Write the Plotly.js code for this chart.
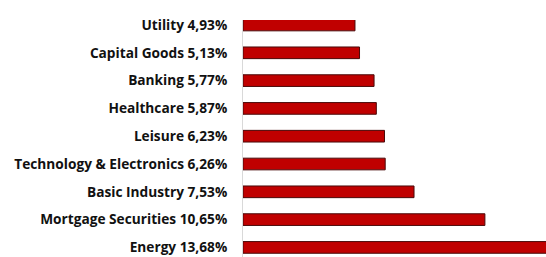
<!DOCTYPE html>
<html>
<head>
<meta charset="utf-8">
<script src="https://cdn.plot.ly/plotly-3.0.1.min.js"></script>
<style>html,body{margin:0;padding:0;background:#fff;}#chart{width:546px;height:257px;}</style>
</head>
<body>
<div id="chart"></div>
<script>
var sectors = ["Utility", "Capital Goods", "Banking", "Healthcare", "Leisure", "Technology & Electronics", "Basic Industry", "Mortgage Securities", "Energy"];
var weights = [4.93, 5.13, 5.77, 5.87, 6.23, 6.26, 7.53, 10.65, 13.68];
var tickLabels = sectors.map(function (s, i) { return s + " " + weights[i].toFixed(2).replace(".", ",") + "%"; });

var trace = {
  type: "bar",
  orientation: "h",
  y: tickLabels,
  x: weights,
  width: 0.42,
  marker: { color: "#C00000", line: { color: "#4a0a0a", width: 1 } },
  hoverinfo: "none"
};

var layout = {
  width: 546,
  height: 257,
  margin: { l: 243, r: 0, t: 20, b: 0 },
  paper_bgcolor: "#ffffff",
  plot_bgcolor: "#ffffff",
  showlegend: false,
  font: { family: "'Open Sans', sans-serif", size: 13.7, color: "#111111" },
  xaxis: { range: [0, 13.34], showgrid: false, zeroline: false, showticklabels: false, showline: false, ticks: "" },
  yaxis: {
    type: "category",
    range: [8.345, -0.18],
    showgrid: false,
    zeroline: false,
    showline: true,
    linecolor: "#d9d9d9",
    linewidth: 1,
    ticks: "",
    ticklabelstandoff: 12,
    tickfont: { family: "'Open Sans', sans-serif", size: 13.7, color: "#111111", weight: 700 }
  }
};

Plotly.newPlot("chart", [trace], layout, { staticPlot: true, displayModeBar: false });
</script>
</body>
</html>
